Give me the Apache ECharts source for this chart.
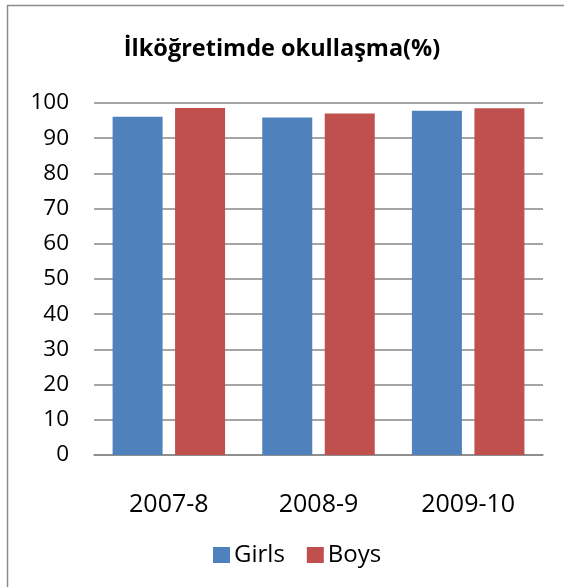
<!DOCTYPE html>
<html><head><meta charset="utf-8">
<script src="https://cdn.jsdelivr.net/npm/echarts@6/dist/echarts.min.js"></script>
<style>html,body{margin:0;padding:0;background:#fff}#c{width:564px;height:587px}</style>
</head><body><div id="c"></div>
<script>
var categories = ['2007-8', '2008-9', '2009-10'];
var girls = [96.1, 95.9, 97.8];
var boys = [98.6, 97.0, 98.5];
var seriesNames = ['Girls', 'Boys'];
var titleText = 'İlköğretimde okullaşma(%)';
var FONT = 'Open Sans';
var chart = echarts.init(document.getElementById('c'), null, {renderer: 'canvas'});
chart.setOption({
  animation: false,
  backgroundColor: '#fff',
  graphic: [{type: 'rect', left: 5, top: 3, shape: {width: 600, height: 620}, style: {fill: 'none', stroke: '#8c8c8c', lineWidth: 1.5}, silent: true}],
  title: {text: titleText, left: 'center', top: 32, textStyle: {fontFamily: FONT, fontWeight: 'bold', fontSize: 23.5, color: '#000'}},
  legend: {data: seriesNames, bottom: 15, left: 208, itemWidth: 17, itemHeight: 16, itemGap: 22, icon: 'rect',
    textStyle: {fontFamily: FONT, fontSize: 24, color: '#000', padding: [0, 0, 0, -1]}},
  grid: {left: 94, right: 21, top: 103, bottom: 132, containLabel: false},
  xAxis: {type: 'category', data: categories, axisTick: {show: false},
    axisLine: {lineStyle: {color: '#878787', width: 1.5}},
    axisLabel: {fontFamily: FONT, fontSize: 25, color: '#000', margin: 37}},
  yAxis: {type: 'value', min: 0, max: 100, interval: 10,
    axisLine: {show: false}, axisTick: {show: false},
    splitLine: {lineStyle: {color: '#878787', width: 1.5}},
    axisLabel: {fontFamily: FONT, fontSize: 22.5, color: '#000', margin: 25}},
  series: [
    {name: seriesNames[0], type: 'bar', data: girls, barWidth: 50, barGap: '25%', itemStyle: {color: '#4F81BD'}},
    {name: seriesNames[1], type: 'bar', data: boys, barWidth: 50, itemStyle: {color: '#C0504D'}}
  ]
});
</script></body></html>
